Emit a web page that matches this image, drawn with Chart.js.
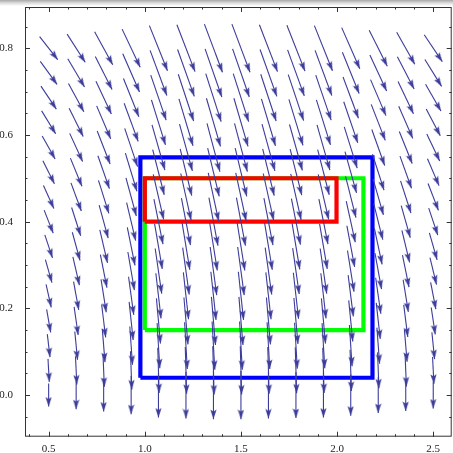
<!DOCTYPE html>
<html>
<head>
<meta charset="utf-8">
<script src="https://cdn.jsdelivr.net/npm/chart.js@4.4.1/dist/chart.umd.min.js"></script>
<style>
html, body { margin: 0; padding: 0; }
body {
    width: 453px; height: 453px; overflow: hidden;
    background: #fff linear-gradient(#a8a8a8 0px, #dcdcdc 3px, #ffffff 6px) no-repeat;
}
canvas { display: block; }
</style>
</head>
<body>
<canvas id="grafica" width="453" height="453"></canvas>
<script>
// grid points of the vector field
const gridX = [0.5, 0.643, 0.786, 0.929, 1.071, 1.214, 1.357, 1.5, 1.643, 1.786, 1.929, 2.071, 2.214, 2.357, 2.5];
const gridY = [0, 0.057, 0.114, 0.171, 0.229, 0.286, 0.343, 0.4, 0.457, 0.514, 0.571, 0.629, 0.686, 0.743, 0.8];

// arrow components: horizontal part per row, vertical part per column
const arrowDx = [0, 0.007, 0.014, 0.021, 0.027, 0.034, 0.04, 0.047, 0.054, 0.06, 0.067, 0.073, 0.08, 0.087, 0.094];
const arrowDy = [-0.053, -0.065, -0.076, -0.088, -0.104, -0.108, -0.111, -0.111, -0.108, -0.106, -0.104, -0.095, -0.083, -0.074, -0.062];

// boxes: [xmin, xmax, ymin, ymax]
const blueBox = [0.977, 2.184, 0.04, 0.548];
const greenBox = [1.0, 2.137, 0.15, 0.5];
const redBox = [1.0, 1.997, 0.4, 0.5];

const xTicks = [0.5, 1.0, 1.5, 2.0, 2.5];
const yTicks = [0.0, 0.2, 0.4, 0.6, 0.8];
const xMinor = [0.4, 0.6, 0.7, 0.8, 0.9, 1.1, 1.2, 1.3, 1.4, 1.6, 1.7, 1.8, 1.9, 2.1, 2.2, 2.3, 2.4, 2.5];
const yMinor = [-0.05, 0.05, 0.1, 0.15, 0.25, 0.3, 0.35, 0.45, 0.5, 0.55, 0.65, 0.7, 0.75, 0.85];

const arrowColor = '#3c3c9a';

// arrowhead image, tip at the centre, body trailing below
function makeHead(){
    const c = document.createElement('canvas');
    c.width = 7;
    c.height = 20;
    const g = c.getContext('2d');
    g.fillStyle = arrowColor;
    g.beginPath();
    g.moveTo(3.5, 10);
    g.lineTo(6.6, 19.5);
    g.lineTo(3.5, 17.5);
    g.lineTo(0.4, 19.5);
    g.closePath();
    g.fill();
    return c;
}
const head = makeHead();

function headRotation(ctx){
    const d = ctx.dataset.data;
    const sx = ctx.chart.scales.x, sy = ctx.chart.scales.y;
    const dx = sx.getPixelForValue(d[1].x) - sx.getPixelForValue(d[0].x);
    const dy = sy.getPixelForValue(d[1].y) - sy.getPixelForValue(d[0].y);
    return Math.atan2(dx, -dy) * 180 / Math.PI;
}

function boxData(b){
    return [
        {x: b[0], y: b[2]}, {x: b[0], y: b[3]}, {x: b[1], y: b[3]},
        {x: b[1], y: b[2]}, {x: b[0], y: b[2]}
    ];
}

function boxSet(b, color, order){
    return {
        data: boxData(b),
        showLine: true,
        borderColor: color,
        borderWidth: 4.2,
        borderJoinStyle: 'miter',
        pointRadius: 0,
        order: order
    };
}

const datasets = [];
for (let j = 0; j < gridY.length; j++){
    for (let i = 0; i < gridX.length; i++){
        const dx = arrowDx[j], dy = arrowDy[i];
        datasets.push({
            data: [
                {x: gridX[i] - dx / 2, y: gridY[j] - dy / 2},
                {x: gridX[i] + dx / 2, y: gridY[j] + dy / 2}
            ],
            showLine: true,
            borderColor: arrowColor,
            borderWidth: 1.1,
            pointRadius: [0, 4],
            pointStyle: head,
            pointRotation: headRotation,
            order: 0
        });
    }
}
datasets.push(boxSet(redBox, '#ff0000', 1));
datasets.push(boxSet(greenBox, '#00ff00', 2));
datasets.push(boxSet(blueBox, '#0000ff', 3));

// frame with inward ticks on all four sides
const frame = {
    id: 'frame',
    afterDraw(chart){
        const a = chart.chartArea;
        const sx = chart.scales.x, sy = chart.scales.y;
        const c = chart.ctx;
        c.save();
        c.strokeStyle = '#333';
        c.lineWidth = 1;
        c.strokeRect(a.left + 0.5, a.top + 0.5, a.right - a.left - 1, a.bottom - a.top - 1);
        function tx(v, len){
            const p = Math.round(sx.getPixelForValue(v)) + 0.5;
            c.moveTo(p, a.bottom); c.lineTo(p, a.bottom - len);
            c.moveTo(p, a.top); c.lineTo(p, a.top + len);
        }
        function ty(v, len){
            const p = Math.round(sy.getPixelForValue(v)) + 0.5;
            c.moveTo(a.left, p); c.lineTo(a.left + len, p);
            c.moveTo(a.right, p); c.lineTo(a.right - len, p);
        }
        c.beginPath();
        xTicks.forEach(v => tx(v, 5));
        xMinor.forEach(v => tx(v, 2.5));
        yTicks.forEach(v => ty(v, 5));
        yMinor.forEach(v => ty(v, 2.5));
        c.stroke();
        c.restore();
    }
};

new Chart(document.getElementById('grafica'), {
    type: 'scatter',
    data: { datasets: datasets },
    options: {
        responsive: false,
        animation: false,
        layout: { autoPadding: false, padding: { top: 7, right: 1.3, left: 0, bottom: 0 } },
        plugins: { legend: { display: false }, tooltip: { enabled: false } },
        scales: {
            x: {
                min: 0.377,
                max: 2.596,
                grid: { display: false },
                border: { display: false },
                afterBuildTicks: s => { s.ticks = xTicks.map(v => ({value: v})); },
                afterFit: s => { s.height = 16.3; s.paddingLeft = 0; s.paddingRight = 0; },
                ticks: {
                    padding: -2,
                    color: '#222',
                    font: { family: 'Liberation Serif', size: 11 },
                    callback: v => v.toFixed(1)
                }
            },
            y: {
                min: -0.096,
                max: 0.895,
                grid: { display: false },
                border: { display: false },
                afterBuildTicks: s => { s.ticks = yTicks.map(v => ({value: v})); },
                afterFit: s => { s.width = 25; s.paddingTop = 0; s.paddingBottom = 0; },
                ticks: {
                    padding: 4,
                    color: '#222',
                    font: { family: 'Liberation Serif', size: 11 },
                    callback: v => v.toFixed(1)
                }
            }
        }
    },
    plugins: [frame]
});
</script>
</body>
</html>
